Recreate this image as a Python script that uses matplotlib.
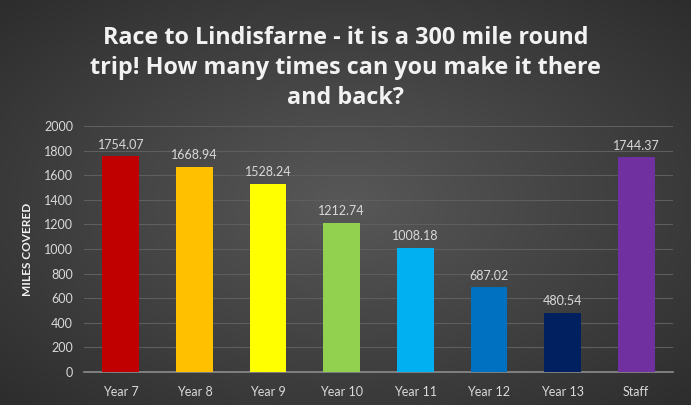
import numpy as np
import matplotlib
matplotlib.use("Agg")
import matplotlib.pyplot as plt

categories = ["Year 7", "Year 8", "Year 9", "Year 10", "Year 11", "Year 12", "Year 13", "Staff"]
miles = [1754.07, 1668.94, 1528.24, 1212.74, 1008.18, 687.02, 480.54, 1744.37]
colors = ["#C00000", "#FFC000", "#FFFF00", "#92D050", "#00B0F0", "#0070C0", "#002060", "#7030A0"]
yticks = [0, 200, 400, 600, 800, 1000, 1200, 1400, 1600, 1800, 2000]

plt.rcParams["font.family"] = ["Lato", "DejaVu Sans"]

fig = plt.figure(figsize=(6.91, 4.05), dpi=100)

# radial gradient background
bg = fig.add_axes([0, 0, 1, 1], zorder=0)
h, w = 405, 691
yy, xx = np.mgrid[0:h, 0:w]
r = np.sqrt(((xx - w / 2) / (w / 2)) ** 2 + ((yy - h / 2) / (h / 2)) ** 2) / np.sqrt(2)
v = 0.345 - 0.17 * r
img = np.dstack([v, v, v])
bg.imshow(img, aspect="auto", extent=[0, 1, 0, 1])
bg.axis("off")

ax = fig.add_axes([0.1216, 0.0815, 0.8524, 0.6074], zorder=1)
ax.patch.set_alpha(0)
x = np.arange(len(categories))
bars = ax.bar(x, miles, width=0.5, color=colors, zorder=3)
for xi, m in zip(x, miles):
    ax.text(xi, m + 45, f"{m:.2f}", ha="center", va="bottom", color="#d9d9d9", fontsize=9)

ax.set_xlim(-0.5, len(categories) - 0.5)
ax.set_ylim(0, 2000)
ax.set_yticks(yticks)
ax.set_xticks(x)
ax.set_xticklabels(categories)
ax.tick_params(axis="both", length=0, colors="#d9d9d9", labelsize=9)
ax.tick_params(axis="x", pad=10)
ax.tick_params(axis="y", pad=8)
ax.grid(axis="y", color="#5e5e5e", linewidth=0.8, zorder=0)
for s in ["top", "right", "left"]:
    ax.spines[s].set_visible(False)
ax.spines["bottom"].set_color("#8c8c8c")
ax.spines["bottom"].set_linewidth(1.2)
ax.set_ylabel("MILES COVERED", color="#f2f2f2", fontsize=8.5, fontweight="bold", labelpad=8)

fig.text(0.5, 0.935, "Race to Lindisfarne - it is a 300 mile round\ntrip! How many times can you make it there\nand back?",
         ha="center", va="top", color="#f2f2f2", fontsize=16.8, fontweight="bold",
         linespacing=1.32, family=["Open Sans", "DejaVu Sans"])

fig.savefig("out.png", dpi=100)
